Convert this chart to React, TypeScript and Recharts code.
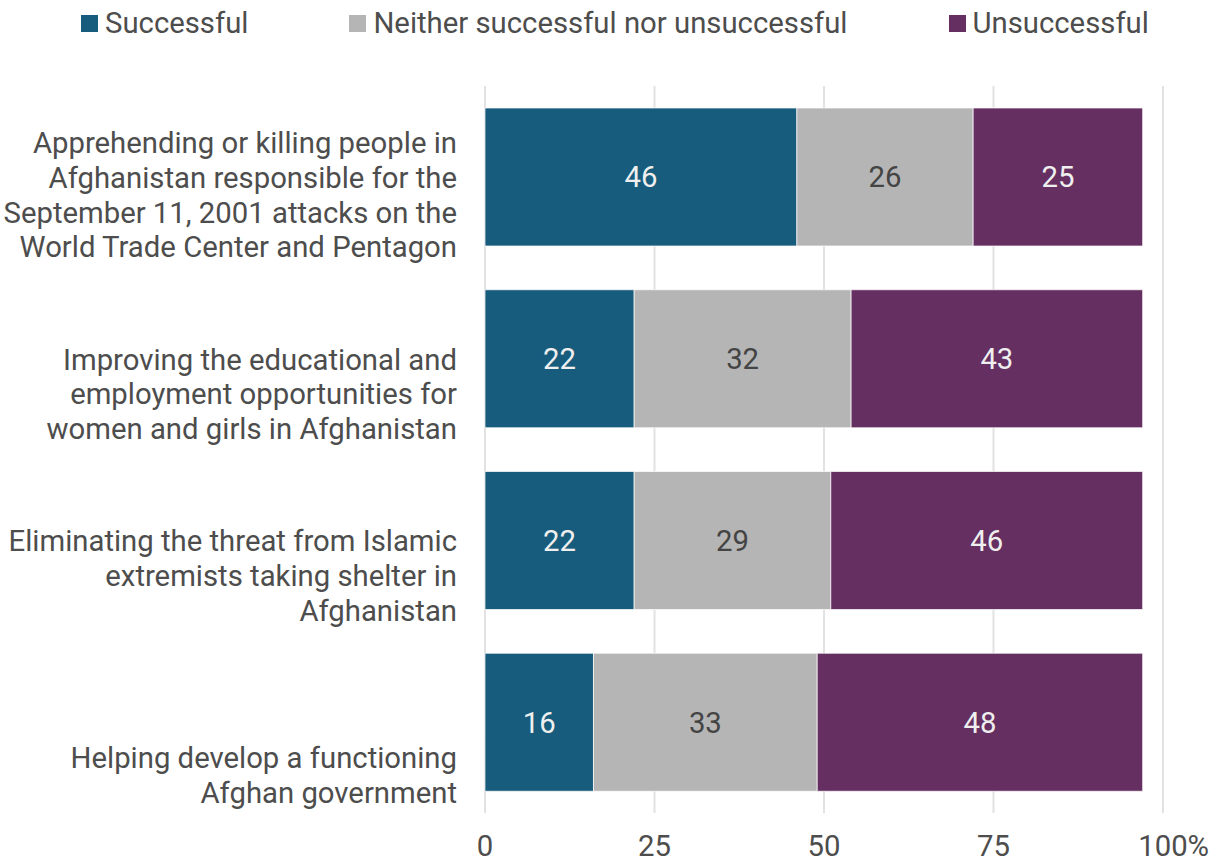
import React from 'react';
import { BarChart, Bar, XAxis, YAxis, CartesianGrid, LabelList } from 'recharts';

const categories: string[][] = [
  ['Apprehending or killing people in', 'Afghanistan responsible for the', 'September 11, 2001 attacks on the', 'World Trade Center and Pentagon'],
  ['Improving the educational and', 'employment opportunities for', 'women and girls in Afghanistan'],
  ['Eliminating the threat from Islamic', 'extremists taking shelter in', 'Afghanistan'],
  ['Helping develop a functioning', 'Afghan government'],
];
const successful = [46, 22, 22, 16];
const neither = [26, 32, 29, 33];
const unsuccessful = [25, 43, 46, 48];
const xTicks = [0, 25, 50, 75, 100];
const seriesNames = ['Successful', 'Neither successful nor unsuccessful', 'Unsuccessful'];
const seriesKeys = ['successful', 'neither', 'unsuccessful'];
const colors = ['#175C7C', '#B5B5B5', '#652F61'];
const labelColors = ['#EFEFEF', '#444444', '#EFEFEF'];

const data = categories.map((lines, i) => ({
  name: lines.join(' '),
  successful: successful[i],
  neither: neither[i],
  unsuccessful: unsuccessful[i],
}));
const linesByName: Record<string, string[]> = {};
categories.forEach((l) => { linesByName[l.join(' ')] = l; });

const FONT = 'Roboto, "Noto Sans", sans-serif';
const TEXT = '#4D4D4D';
const FS = 29.3;
const BAR_SIZE = 138;
const LINE_H = 34.8;

const YTick = (props: any) => {
  const { x, y, payload } = props;
  const lines = linesByName[payload.value] || [String(payload.value)];
  const n = lines.length;
  const lastBaseline = y + BAR_SIZE / 2 + 11.5;
  return (
    <text x={x - 20} y={y} textAnchor="end" fill={TEXT} fontSize={FS} fontFamily={FONT}>
      {lines.map((ln, i) => (
        <tspan key={i} x={x - 20} y={lastBaseline - (n - 1 - i) * LINE_H}>{ln}</tspan>
      ))}
    </text>
  );
};

const XTick = (props: any) => {
  const { x, y, payload } = props;
  const v = payload.value;
  const base = y + 35;
  return (
    <g>
      <text x={x} y={base} textAnchor="middle" fill={TEXT} fontSize={FS} fontFamily={FONT}>{String(v)}</text>
      {v === 100 ? (
        <text x={x + 24.5} y={base} textAnchor="start" fill={TEXT} fontSize={FS} fontFamily={FONT}>%</text>
      ) : null}
    </g>
  );
};

export default function App() {
  return (
    <div style={{ position: 'absolute', left: 0, top: 0, width: 1217, height: 861, background: '#fff', fontFamily: FONT }}>
      <div style={{ position: 'absolute', left: 81, top: 5, display: 'flex', alignItems: 'center', gap: 101, color: TEXT, fontSize: FS, lineHeight: '36px', whiteSpace: 'nowrap' }}>
        {seriesNames.map((s, i) => (
          <div key={s} style={{ display: 'flex', alignItems: 'center' }}>
            <span style={{ display: 'inline-block', width: 17, height: 17, background: colors[i], marginRight: 7 }} />
            <span>{s}</span>
          </div>
        ))}
      </div>
      <BarChart
        width={1217}
        height={861}
        data={data}
        layout="vertical"
        margin={{ top: 86, right: 54, bottom: 0, left: 0 }}
        barSize={BAR_SIZE}
      >
        <CartesianGrid horizontal={false} vertical={true} stroke="#E2E2E2" strokeWidth={2} />
        <XAxis
          type="number"
          domain={[0, 100]}
          ticks={xTicks}
          axisLine={false}
          tickLine={false}
          height={48}
          tick={<XTick />}
          interval={0}
        />
        <YAxis
          type="category"
          dataKey="name"
          width={485}
          axisLine={false}
          tickLine={false}
          tick={<YTick />}
          interval={0}
        />
        {seriesKeys.map((k, i) => (
          <Bar key={k} dataKey={k} name={seriesNames[i]} stackId="a" fill={colors[i]} stroke="rgba(255,255,255,0.7)" strokeWidth={1} isAnimationActive={false}>
            <LabelList dataKey={k} position="center" fill={labelColors[i]} fontSize={FS} fontFamily={FONT} />
          </Bar>
        ))}
      </BarChart>
    </div>
  );
}
